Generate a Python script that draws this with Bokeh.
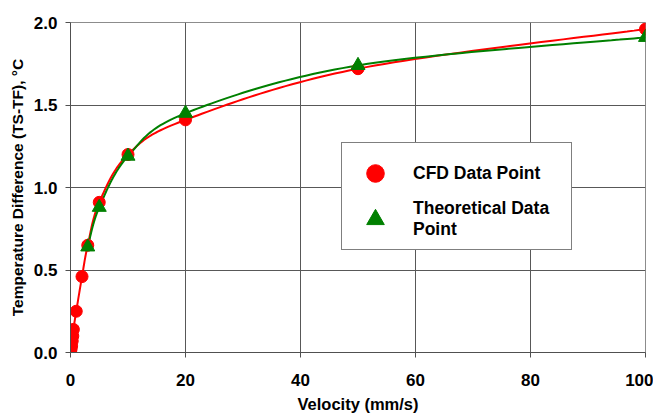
import numpy as np
from bokeh.plotting import figure
from bokeh.models import (Range1d, Legend, LegendItem, FixedTicker,
                          PrintfTickFormatter)
from bokeh.embed import file_html
from bokeh.resources import INLINE

# ---- data ----
cfd_velocity = [0, 0.1, 0.2, 0.3, 0.4, 0.5, 1, 2, 3, 5, 10, 20, 50, 100]
cfd_dt = [0.0, 0.02, 0.04, 0.07, 0.10, 0.14, 0.25, 0.46, 0.65, 0.91, 1.20, 1.41, 1.72, 1.96]
theo_velocity = [3, 5, 10, 20, 50, 100]
theo_dt = [0.64, 0.88, 1.19, 1.45, 1.74, 1.91]
x_ticks = [0, 20, 40, 60, 80, 100]
y_ticks = [0.0, 0.5, 1.0, 1.5, 2.0]

FONT = "Liberation Sans"


def smooth(xs, ys, n=30):
    """Catmull-Rom (Excel-like) smoothed line through the given points."""
    xs = np.asarray(xs, float)
    ys = np.asarray(ys, float)
    px, py = [], []
    m = len(xs)
    for i in range(m - 1):
        x0, y0 = (xs[i - 1], ys[i - 1]) if i > 0 else (xs[i], ys[i])
        x1, y1 = xs[i], ys[i]
        x2, y2 = xs[i + 1], ys[i + 1]
        x3, y3 = (xs[i + 2], ys[i + 2]) if i + 2 < m else (x2, y2)
        c1x, c1y = x1 + (x2 - x0) / 6, y1 + (y2 - y0) / 6
        c2x, c2y = x2 - (x3 - x1) / 6, y2 - (y3 - y1) / 6
        t = np.linspace(0, 1, n)
        a = (1 - t) ** 3
        b = 3 * (1 - t) ** 2 * t
        c = 3 * (1 - t) * t ** 2
        d = t ** 3
        px.extend(a * x1 + b * c1x + c * c2x + d * x2)
        py.extend(a * y1 + b * c1y + c * c2y + d * y2)
    return px, py


p = figure(output_backend="svg", toolbar_location=None,
           width=653, height=414,
           frame_width=575, frame_height=330,
           min_border_left=70, min_border_top=22,
           min_border_right=8, min_border_bottom=62,
           x_range=Range1d(0, 100), y_range=Range1d(0, 2.0))
p.background_fill_color = "white"
p.border_fill_color = "white"
p.outline_line_color = "#8c8c8c"
p.outline_line_width = 1

# axes
for ax in (p.xaxis[0], p.yaxis[0]):
    ax.axis_line_color = "#505050"
    ax.major_tick_line_color = "#505050"
    ax.major_tick_out = 5
    ax.major_tick_in = 0
    ax.minor_tick_out = 0
    ax.minor_tick_in = 0
    ax.major_label_text_font = FONT
    ax.major_label_text_font_style = "bold"
    ax.major_label_text_font_size = "17px"
    ax.major_label_text_color = "black"
    ax.axis_label_text_font = FONT
    ax.axis_label_text_font_style = "bold"
    ax.axis_label_text_color = "black"

p.xaxis.axis_label_text_font_size = "16.5px"
p.yaxis.axis_label_text_font_size = "15.5px"
p.xaxis.ticker = FixedTicker(ticks=x_ticks)
p.yaxis.ticker = FixedTicker(ticks=y_ticks)
p.yaxis.formatter = PrintfTickFormatter(format="%.1f")
p.xaxis.axis_label = "Velocity (mm/s)"
p.yaxis.axis_label = "Temperature Difference (TS-TF), °C"
p.xaxis.major_label_standoff = 16
p.yaxis.major_label_standoff = 8
p.xaxis.axis_label_standoff = 6
p.yaxis.axis_label_standoff = 5

p.xgrid.ticker = FixedTicker(ticks=x_ticks)
p.ygrid.ticker = FixedTicker(ticks=y_ticks)
p.grid.grid_line_color = "#585858"
p.grid.grid_line_width = 1

# smoothed lines
cx, cy = smooth(cfd_velocity, cfd_dt)
tx, ty = smooth(theo_velocity, theo_dt)
p.line(cx, cy, line_color="#ff0000", line_width=2)
p.line(tx, ty, line_color="#008000", line_width=2)

# markers
r_cfd = p.scatter(cfd_velocity, cfd_dt, marker="circle", size=12,
                  fill_color="#ff0000", line_color="#ff0000")
r_theo = p.scatter(theo_velocity, theo_dt, marker="triangle", size=14,
                   fill_color="#008000", line_color="#008000")

legend = Legend(items=[LegendItem(label="CFD Data Point", renderers=[r_cfd]),
                       LegendItem(label="Theoretical Data\nPoint", renderers=[r_theo])],
                location=(271, 102))
legend.border_line_color = "black"
legend.border_line_width = 1
legend.background_fill_color = "white"
legend.background_fill_alpha = 1
legend.label_text_font = FONT
legend.label_text_font_style = "bold"
legend.label_text_font_size = "17.5px"
legend.label_text_color = "black"
legend.padding = 8
legend.margin = 0
legend.spacing = 2
legend.label_standoff = 13
legend.glyph_width = 50
legend.glyph_height = 44
legend.label_width = 150
p.add_layout(legend)

open("out.html", "w").write(file_html(p, INLINE))
